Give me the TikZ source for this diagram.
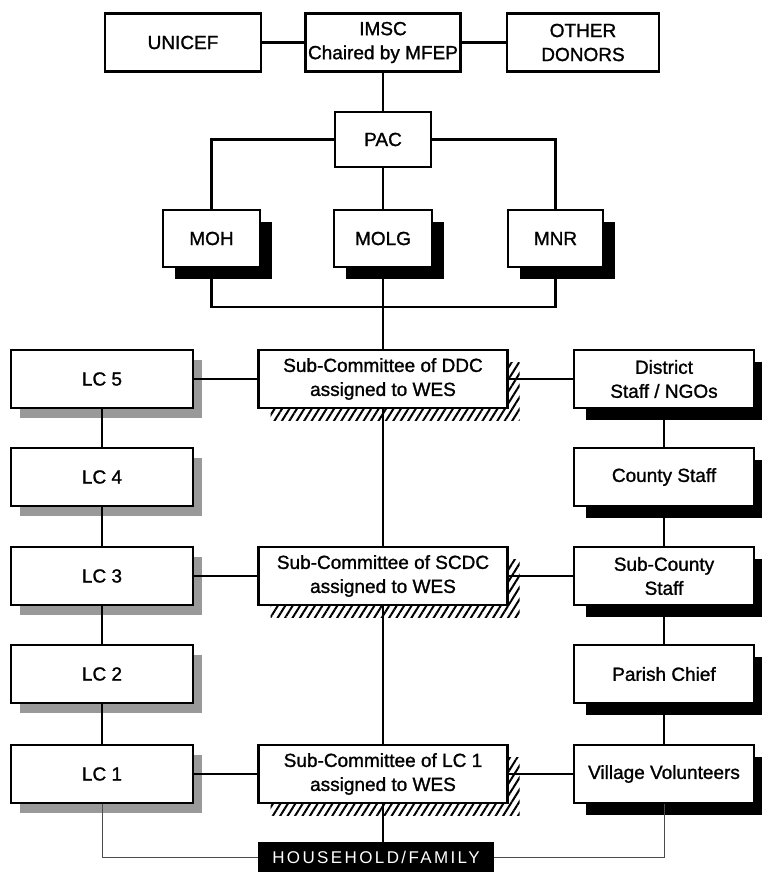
\documentclass[tikz,border=0pt]{standalone}
\usepackage{fontspec}
\setmainfont[FakeBold=1.2]{Liberation Sans}
\newfontfamily\hhfont[LetterSpace=14]{Liberation Sans}
\usetikzlibrary{shadows,patterns.meta}
\begin{document}
\begin{tikzpicture}[x=1pt,y=-1pt,
  box/.style={draw, line width=2.6pt, fill=white, inner sep=0pt, align=center,
    font=\fontsize{19}{24}\selectfont},
  blk/.style={drop shadow={shadow xshift=12pt, shadow yshift=-12pt, fill=black, opacity=1}},
  gry/.style={drop shadow={shadow xshift=9pt, shadow yshift=-10pt, fill=black!40, opacity=1}},
  hat/.style={general shadow={shadow xshift=12pt, shadow yshift=-12pt,
    pattern={Lines[angle=58,distance=6.3pt,line width=2pt]}}},
  lcbox/.style={box, gry, minimum width=182pt, minimum height=58pt},
  midbox/.style={box, hat, minimum width=249pt, minimum height=58pt},
  rbox/.style={box, blk, minimum width=180pt, minimum height=58pt},
  conn/.style={line width=2.2pt},
  thinconn/.style={line width=1pt, black!70}]
\useasboundingbox (0,0) rectangle (761,872);

% top row
\node[box, minimum width=156pt, minimum height=58pt] (unicef) at (183,42.5) {UNICEF};
\node[box, minimum width=155pt, minimum height=58pt] (imsc) at (383,42.5) {IMSC\\Chaired by MFEP};
\node[box, minimum width=152pt, minimum height=58pt] (donors) at (583,42.5) {OTHER\\DONORS};
\node[box, minimum width=96pt, minimum height=55pt] (pac) at (383,139.5) {PAC};

% ministries
\node[box, blk, minimum width=97pt, minimum height=57pt] (moh) at (211.5,238.5) {MOH};
\node[box, blk, minimum width=98pt, minimum height=57pt] (molg) at (383,238.5) {MOLG};
\node[box, blk, minimum width=95pt, minimum height=57pt] (mnr) at (555.5,238.5) {MNR};

% left column
\node[lcbox] (lc5) at (102,379) {LC 5};
\node[lcbox] (lc4) at (102,477) {LC 4};
\node[lcbox] (lc3) at (102,576) {LC 3};
\node[lcbox] (lc2) at (102,674) {LC 2};
\node[lcbox] (lc1) at (102,774) {LC 1};

% middle column
\node[midbox] (ddc) at (383,379) {Sub-Committee of DDC\\assigned to WES};
\node[midbox] (scdc) at (383,576) {Sub-Committee of SCDC\\assigned to WES};
\node[midbox] (lcc) at (383,774) {Sub-Committee of LC 1\\assigned to WES};

% right column
\node[rbox] (dist) at (664,379) {District\\Staff / NGOs};
\node[rbox] (county) at (664,477) {County Staff};
\node[rbox] (subc) at (664,576) {Sub-County\\Staff};
\node[rbox] (parish) at (664,674) {Parish Chief};
\node[rbox] (vill) at (664,774) {Village Volunteers};

% household
\node[fill=black, text=white, inner sep=0pt, minimum width=236pt, minimum height=30pt,
  font=\hhfont\fontsize{17}{17}\selectfont] (hh) at (376,857) {HOUSEHOLD/FAMILY};

% connectors
\draw[conn] (unicef) -- (imsc);
\draw[conn] (imsc) -- (donors);
\draw[conn] (imsc) -- (pac);
\draw[conn] (pac.west) -| (moh.north);
\draw[conn] (pac.east) -| (mnr.north);
\draw[conn] (pac) -- (molg);
\coordinate (bus) at (383,307);
\draw[conn] (moh.south) |- (bus) -| (mnr.south);
\draw[conn] (molg) -- (ddc);

\draw[conn] (lc5) -- (lc4);
\draw[conn] (lc4) -- (lc3);
\draw[conn] (lc3) -- (lc2);
\draw[conn] (lc2) -- (lc1);

\draw[conn] (dist) -- (county);
\draw[conn] (county) -- (subc);
\draw[conn] (subc) -- (parish);
\draw[conn] (parish) -- (vill);

\draw[conn] (ddc) -- (scdc);
\draw[conn] (scdc) -- (lcc);
\draw[conn] (lc5) -- (ddc);
\draw[conn] (ddc) -- (dist);
\draw[conn] (lc3) -- (scdc);
\draw[conn] (scdc) -- (subc);
\draw[conn] (lc1) -- (lcc);
\draw[conn] (lcc) -- (vill);

\draw[conn] (lcc.south) -- (lcc.south |- hh.north);
\draw[thinconn] (lc1.south) |- (hh.west);
\draw[thinconn] (hh.east) -| (vill.south);
\end{tikzpicture}
\end{document}
